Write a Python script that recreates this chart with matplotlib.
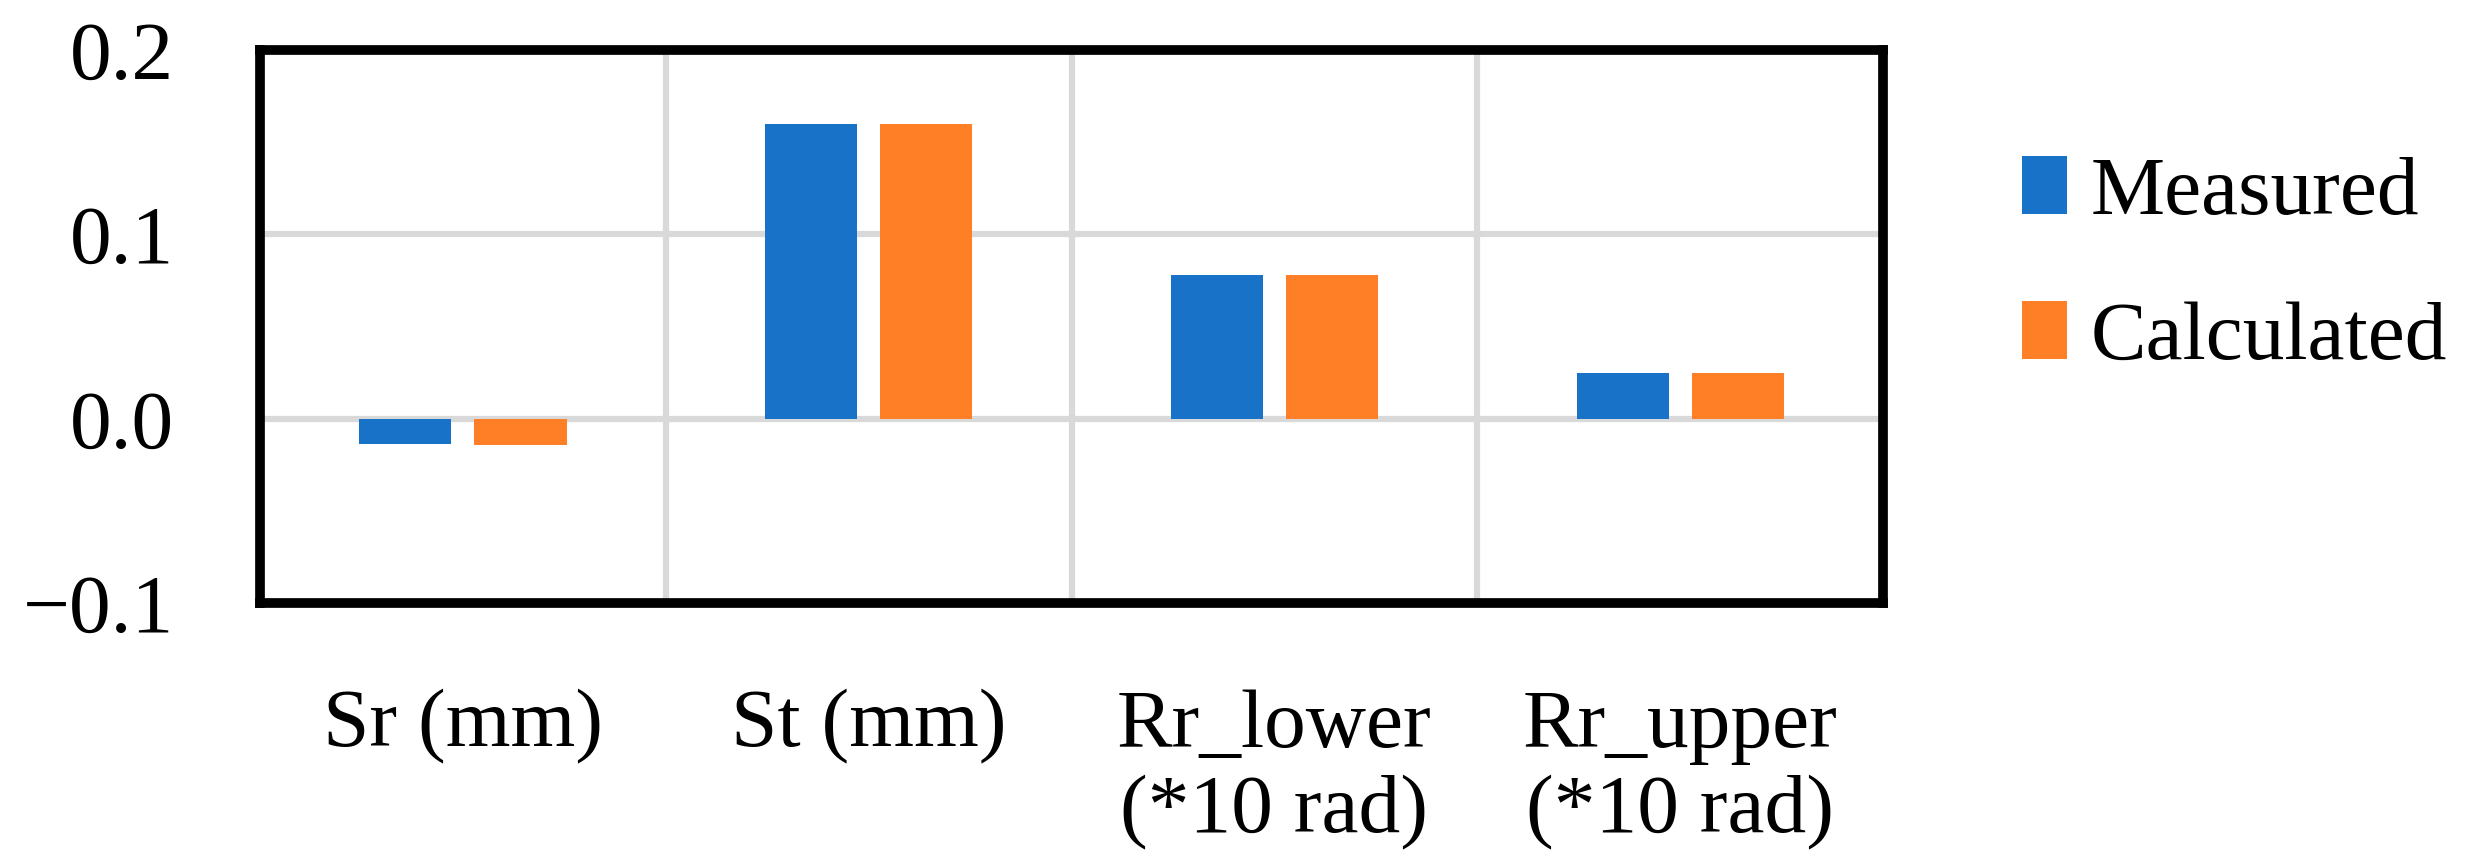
import numpy as np
import matplotlib
matplotlib.use("Agg")
import matplotlib.pyplot as plt

# data
categories = ["Sr (mm)", "St (mm)", "Rr_lower\n(*10 rad)", "Rr_upper\n(*10 rad)"]
measured = [-0.014, 0.160, 0.078, 0.025]
calculated = [-0.0145, 0.160, 0.078, 0.025]
yticks = [-0.1, 0.0, 0.1, 0.2]

blue = "#1873C8"
orange = "#FF7F27"
grid_c = "#D9D9D9"

plt.rcParams["font.family"] = ["Liberation Serif", "DejaVu Serif"]
plt.rcParams["font.size"] = 60

fig = plt.figure(figsize=(24.67, 8.66), dpi=100)
ax = fig.add_axes([0.1054, 0.3037, 0.6579, 0.6386])

x = np.arange(len(categories))
w = 0.227
off = 0.142
ax.bar(x - off, measured, w, color=blue, label="Measured", zorder=3)
ax.bar(x + off, calculated, w, color=orange, label="Calculated", zorder=3)

ax.set_xlim(-0.5, len(categories) - 0.5)
ax.set_ylim(-0.1, 0.2)
ax.set_yticks(yticks)
ax.set_yticklabels(["\u22120.1", "0.0", "0.1", "0.2"])
ax.set_xticks(x)
ax.set_xticklabels(categories, linespacing=1.17)
ax.set_xticks(x[:-1] + 0.5, minor=True)

ax.tick_params(axis="both", which="both", length=0)
ax.tick_params(axis="x", pad=62)
ax.tick_params(axis="y", pad=62)

ax.grid(True, axis="y", which="major", color=grid_c, lw=4.5, zorder=0)
ax.grid(True, axis="x", which="minor", color=grid_c, lw=4.5, zorder=0)
ax.set_axisbelow(True)

for s in ax.spines.values():
    s.set_linewidth(7)
    s.set_color("black")
    s.set_zorder(5)

fig.legend(loc="upper left", bbox_to_anchor=(0.8196, 0.82), frameon=False,
           handlelength=0.54, handleheight=0.70, handletextpad=0.29,
           labelspacing=0.82, borderpad=0, borderaxespad=0)

fig.savefig("out.png", dpi=100)
